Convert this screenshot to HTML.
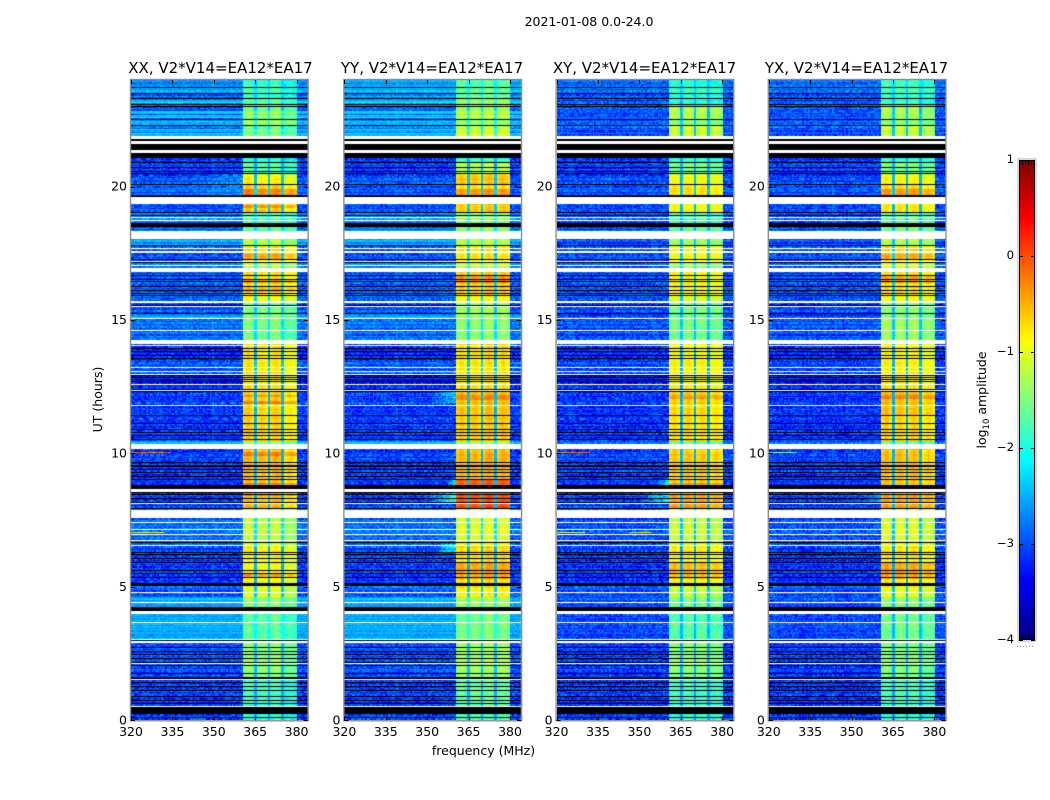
<!DOCTYPE html>
<html lang="en">
<head>
<meta charset="utf-8">
<title>2021-01-08 0.0-24.0</title>
<style>
html,body{margin:0;padding:0;background:#fff;width:1050px;height:800px;overflow:hidden}
#figure{position:relative;width:1050px;height:800px;font-family:"DejaVu Sans","Liberation Sans",sans-serif}
canvas{position:absolute;display:block}
svg{position:absolute;left:0;top:0}
text{font-family:"DejaVu Sans","Liberation Sans",sans-serif;fill:#000}
</style>
</head>
<body>
<div id="figure">
<canvas id="panel0" width="178" height="640" style="left:131px;top:80px"></canvas>
<canvas id="panel1" width="178" height="640" style="left:345px;top:80px"></canvas>
<canvas id="panel2" width="178" height="640" style="left:557px;top:80px"></canvas>
<canvas id="panel3" width="178" height="640" style="left:769px;top:80px"></canvas>
<canvas id="cbar" width="16" height="480" style="left:1019px;top:160px"></canvas>
<svg id="overlay" width="1050" height="800" viewBox="0 0 1050 800">
<text x="589" y="26" text-anchor="middle" font-size="12.5">2021-01-08 0.0-24.0</text>
<text x="483.5" y="755" text-anchor="middle" font-size="12.5">frequency (MHz)</text>
<text transform="translate(102 399.5) rotate(-90)" text-anchor="middle" font-size="12.5">UT (hours)</text>
<text transform="translate(986 400) rotate(-90)" text-anchor="middle" font-size="12.5">log<tspan dy="3" font-size="8.5">10</tspan><tspan dy="-3"> amplitude</tspan></text>
</svg>
</div>
<script>
// ---------- chart data ----------
const panelTitles = ['XX, V2*V14=EA12*EA17','YY, V2*V14=EA12*EA17','XY, V2*V14=EA12*EA17','YX, V2*V14=EA12*EA17'];
const freqTicks = [320,335,350,365,380];
const utTicks = [0,5,10,15,20];
const cbarTicks = [-4,-3,-2,-1,0,1];

// start hour of each observing segment
const segStart = [0,0.5,1.5,3,4.05,4.6,5.1,6.55,7.9,8.65,10.34,10.45,11.4,12.3,12.95,13.5,14.25,15.05,15.25,15.7,15.9,16.9,17.2,17.8,18.3,18.6,19,19.65,20.1,20.5,20.9,21.8,22.3,22.5,23,23.3,23.5,23.7];
// log10 amplitude outside the receiver band, per segment
const xxBg = [-3.1,-3.1,-3,-2.55,-2.55,-2.95,-3.1,-2.85,-3.1,-3.1,-2.5,-3.1,-3.1,-3.2,-3,-3.2,-2.85,-2.55,-3,-2.9,-2.95,-2.7,-3,-2.55,-2.9,-2.8,-3,-2.9,-3,-3.1,-3.1,-2.9,-2.5,-3,-2.9,-2.9,-2.55,-2.7];
const yyBg = [-3.1,-3.1,-3,-2.55,-2.55,-2.95,-3.1,-2.85,-3.1,-3.1,-2.5,-3.1,-3.1,-3.2,-3,-3.2,-2.85,-2.55,-3,-2.9,-2.95,-2.65,-3,-2.55,-2.8,-2.75,-3,-3,-3,-3.1,-3.1,-2.8,-2.5,-2.9,-2.8,-2.65,-2.5,-2.55];
const xyBg = [-3.15,-3.15,-3.1,-3.05,-3,-3,-3.15,-3,-3.1,-3.1,-2.9,-3.15,-3.15,-3.2,-3.1,-3.2,-3,-3,-3.05,-3,-3,-2.9,-3,-3,-3,-3.05,-3.05,-3,-3.05,-3.1,-3.1,-3,-2.9,-3,-3,-3,-2.85,-2.85];
const yxBg = [-3.15,-3.15,-3.1,-3.05,-3,-3,-3.15,-3,-3.1,-3.1,-2.9,-3.15,-3.15,-3.2,-3.1,-3.2,-3,-3,-3.05,-3,-3,-2.9,-3,-3,-3,-3.05,-3.05,-3,-3.05,-3.1,-3.1,-3,-2.9,-3,-3,-3,-2.85,-2.85];
// log10 amplitude inside the receiver band, per segment
const xxBand = [-2,-1.9,-1.5,-1.75,-1.5,-1.1,-0.95,-1.25,-0.65,-0.65,-1.5,-0.75,-0.75,-0.85,-0.85,-0.85,-1.6,-1.5,-1.6,-1,-0.8,-1.3,-0.85,-1.3,-1.7,-1.8,-0.75,-0.7,-0.95,-1.8,-2,-1.75,-1.4,-1.65,-1.95,-1.95,-1.85,-1.95];
const yyBand = [-1.9,-1.7,-1.4,-1.6,-1.4,-0.9,-0.8,-1.1,-0.1,-0.6,-1.4,-0.7,-0.65,-0.85,-0.85,-0.8,-1.5,-1.4,-1.4,-0.95,-0.7,-1.2,-0.85,-1.3,-1.5,-1.5,-0.7,-0.8,-0.7,-1.3,-1.9,-1.3,-1.45,-1.45,-1.7,-1.7,-1.7,-1.75];
const xyBand = [-2,-1.9,-1.5,-1.75,-1.6,-1.2,-0.9,-1.2,-0.5,-0.7,-1.7,-0.8,-0.75,-0.9,-0.9,-0.95,-1.6,-1.6,-1.6,-1.1,-0.9,-1.4,-0.95,-1.4,-1.7,-1.8,-0.95,-0.8,-1,-1.6,-1.9,-1.15,-1.5,-1.3,-2,-2,-1.9,-2];
const yxBand = [-2,-1.85,-1.55,-1.6,-1.5,-1,-0.85,-1.1,-0.5,-0.65,-1.7,-0.75,-0.65,-0.85,-0.9,-0.9,-1.4,-1.5,-1.5,-0.95,-0.8,-1.1,-0.8,-1.3,-1.6,-1.7,-0.85,-0.75,-0.95,-1.6,-1.9,-1.2,-1.5,-1.35,-1.9,-1.9,-1.8,-1.9];
// sub-band level trims, per polarisation
const subBandTrim = [[0.05,0,0.05,-0.15],[0,0,0.05,0.02],[0,0.02,0,-0.08],[0.02,0,0.02,-0.12]];
// receiver sub-bands, MHz
const subBandLow = [360.5,365.5,370.5,375.5];
const subBandHigh = [364.5,369.5,374.5,380];
// flagged times, hours
const blackLines = [0.09,0.62,0.74,0.89,1.1,1.27,1.42,1.54,1.61,1.74,2.04,2.16,2.3,2.45,2.58,2.7,2.98,5.35,5.51,5.61,5.9,6.07,6.2,6.28,6.64,7.92,8.17,8.3,8.44,8.53,9.03,9.13,9.27,9.38,9.67,10.5,10.65,10.78,10.9,11.1,12.3,12.4,12.69,12.75,12.83,12.9,13.54,13.68,13.81,13.92,15.26,15.56,15.91,16.01,16.1,16.24,16.43,16.5,16.65,17.17,17.28,17.81,18.93,19.04,20.09,20.5,20.57,20.73,20.9,22.3,22.53,23.01,23.09,23.31,23.5,23.72];
const whiteLines = [0.49,1.5,2.12,3.03,3.67,4.39,4.79,6.53,6.72,6.95,7.16,7.42,8.13,11.79,12.34,12.59,12.94,13.06,13.23,14.04,14.13,14.6,15.04,15.5,15.65,15.71,17.03,17.21,17.52,17.58,17.68,18.06,18.72,18.86];
const blackStart = [0.25,4.11,5.05,8.67,9.52,11.4,18.52,19.61,21.11,21.35,21.7];
const blackEnd = [0.47,4.2,5.13,8.78,9.56,11.43,18.6,19.68,21.29,21.63,21.8];
const whiteStart = [2.9,4.01,7.61,8.55,10.17,14.15,16.83,18.08,19.36,21.29,21.63,21.8];
const whiteEnd = [2.95,4.07,7.86,8.65,10.34,14.25,16.94,18.3,19.6,21.35,21.7,21.89];
// bright bursts in the band: start hour, end hour, polarisation, level change
const burstStart = [19.65,19.2,17.3,16.4,16.05,12.1,11.85,9.9,8.8,8.4,5.35,5.3,8.8,19.65,12,12.05,5.3,5.3,17.3,16.4,19.7,12.05,8.7,16.4];
const burstEnd = [19.9,19.3,17.6,16.55,16.2,12.2,11.95,10.05,8.9,8.5,5.5,5.9,9,19.9,12.2,12.2,5.9,5.9,17.6,16.7,19.9,12.2,8.9,16.7];
const burstPanel = [0,0,0,0,0,0,0,0,0,0,0,1,1,1,1,2,2,3,3,3,3,3,2,1];
const burstDelta = [0.35,0.35,0.3,0.25,0.25,0.35,0.4,0.3,0.35,0.25,0.45,0.3,0.45,0.35,0.3,0.3,0.3,0.35,0.25,0.3,0.3,0.35,0.3,0.3];
// narrow interference rows: hour, polarisation, MHz range, level
const rfiHour = [10.04,10.04,7.03,7.03,7.03,10.04];
const rfiPanel = [0,2,0,2,2,3];
const rfiFrom = [320,320,320,320,346,320];
const rfiTo = [334,332,332,330,354,330];
const rfiLevel = [-0.2,-0.3,-1,-1.2,-1.2,-1.6];
// leakage just below the band: hours, polarisation, start MHz, level at band edge
const leakStart = [8.1,8.7,8.1,8.7,19.65,11.9,6.3,8.1,13.9];
const leakEnd = [8.6,9,8.6,9,20.5,12.3,6.6,8.6,14];
const leakPanel = [1,1,2,2,0,1,1,3,1];
const leakFrom = [350,357,350,355,340,352,353,352,353];
const leakLevel = [-2,-2,-2.2,-2.2,-2.7,-2.4,-2.2,-2.6,-2.4];
// brighter rows in the co-polar panels near the top of the day, hours
const brightRowHours = [21.96,22.11,22.63,22.78,23.2];
// fixed pixel texture, log10 units
const speckle = [0.21,-0.34,0.08,-0.12,0.37,-0.05,-0.28,0.16,0.42,-0.41,0.03,0.29,-0.18,-0.07,0.33,-0.25,0.12,-0.38,0.19,0.01,-0.15,0.45,-0.31,0.06,-0.22,0.27,-0.02,0.35,-0.44,0.14,-0.09,0.24,-0.36,0.1,0.39,-0.19,-0.27,0.17,0.04,-0.33,0.31,-0.11,0.22,-0.42,0.07,0.41,-0.24,-0.03,0.18,-0.16,0.3,-0.37,0.13,-0.08,0.26,-0.29,0.44,-0.13,0.02,-0.21,0.34];
const rowStreak = [0.08,-0.1,0.15,0.02,-0.14,0.1,-0.05,0.18,-0.12,0.04,-0.02,0.12,-0.16,0.06,0.14,-0.08,0.01,-0.13,0.11,0.05,-0.06,0.16,-0.11];

// ---------- geometry ----------
const panelLeft = [131,344.4,556.6,768.8];
const titleCenter = [220.5,432,644.5,856.5];
const plotTop = 80, plotBottom = 720.3, pxPerMHz = 2.76, pxPerHour = 26.68;
const freqMin = 320, freqMax = 384, nChannels = 128, nRows = 640, rowsPerHour = nRows / 24;
const bgSeries = [xxBg,yyBg,xyBg,yxBg];
const bandSeries = [xxBand,yyBand,xyBand,yxBand];
const xScale = (p, mhz) => panelLeft[p] + (mhz - freqMin) * pxPerMHz;
const yScale = h => plotBottom - h * pxPerHour;
const cbarLeft = 1019, cbarWidth = 16, cbarTop = 160, cbarHeight = 480;
const cbarY = v => cbarTop + (1 - v) / 5 * cbarHeight;

function clamp01(x){return Math.max(0,Math.min(1,x));}
function jet(v){
  const t = clamp01((v + 4) / 5);
  return [clamp01(1.5 - Math.abs(4*t - 3))*255, clamp01(1.5 - Math.abs(4*t - 2))*255, clamp01(1.5 - Math.abs(4*t - 1))*255];
}
function segmentIndex(h){
  let s = 0;
  for (let i = 0; i < segStart.length; i++) if (segStart[i] <= h) s = i;
  return s;
}
function buildFlags(){
  const flags = new Int8Array(nRows);
  blackLines.forEach(h => { flags[Math.floor(h*rowsPerHour)] = 1; });
  blackStart.forEach((s,i) => { for (let r = Math.floor(s*rowsPerHour); r < Math.ceil(blackEnd[i]*rowsPerHour); r++) flags[r] = 1; });
  whiteLines.forEach(h => { flags[Math.floor(h*rowsPerHour)] = 2; });
  whiteStart.forEach((s,i) => { for (let r = Math.floor(s*rowsPerHour); r < Math.ceil(whiteEnd[i]*rowsPerHour); r++) flags[r] = 2; });
  return flags;
}
function cellValue(p, r, c){
  const h = (r + 0.5) / rowsPerHour, mhz = freqMin + (c + 0.5) * 0.5;
  const s = segmentIndex(h);
  let bg = bgSeries[p][s];
  let hi = bandSeries[p][s];
  for (let i = 0; i < burstStart.length; i++) {
    if (burstPanel[i] === p && h >= burstStart[i] && h < burstEnd[i]) hi += burstDelta[i];
  }
  if (p < 2) {
    for (let i = 0; i < brightRowHours.length; i++) {
      if (Math.abs(h - brightRowHours[i]) < 0.05) { bg = -2.4; hi += 0.25; }
    }
  }
  const rt = Math.floor(r * 0.75);
  const tex = speckle[(c*c*3 + rt*rt*5 + c*rt + c*17 + rt*29 + p*7) % speckle.length];
  const streak = rowStreak[rt % rowStreak.length];
  let sub = -1;
  for (let i = 0; i < subBandLow.length; i++) if (mhz >= subBandLow[i] && mhz < subBandHigh[i]) sub = i;
  if (sub >= 0) {
    const amp = hi < -1.5 ? 0.55 : 0.18;
    const u = (mhz - subBandLow[sub]) / (subBandHigh[sub] - subBandLow[sub]);
    const crown = 0.22 * (1 - Math.abs(2*u - 1)) - 0.07;
    return hi + subBandTrim[p][sub] + crown + tex * amp + streak * 0.5;
  }
  if (mhz >= subBandLow[0] && mhz < subBandHigh[3]) {
    return Math.min(hi - 0.35, bg + 0.6) + tex * 0.25;
  }
  let v = bg + tex * (0.25 + Math.max(0, -2.4 - bg) * 0.8) + streak;
  if (mhz < subBandLow[0]) {
    for (let i = 0; i < leakStart.length; i++) {
      if (leakPanel[i] === p && h >= leakStart[i] && h < leakEnd[i] && mhz >= leakFrom[i]) {
        const f = (mhz - leakFrom[i]) / (subBandLow[0] - leakFrom[i]);
        v += (leakLevel[i] - bg) * f;
      }
    }
  }
  for (let i = 0; i < rfiHour.length; i++) {
    if (rfiPanel[i] === p && Math.floor(rfiHour[i]*rowsPerHour) === r && mhz >= rfiFrom[i] && mhz < rfiTo[i]) {
      v = rfiLevel[i] + tex;
    }
  }
  return v;
}
function drawPanel(p, flags){
  const off = document.createElement('canvas');
  off.width = nChannels; off.height = nRows;
  const octx = off.getContext('2d');
  const img = octx.createImageData(nChannels, nRows);
  for (let r = 0; r < nRows; r++) {
    const yRow = nRows - 1 - r;
    for (let c = 0; c < nChannels; c++) {
      const k = (yRow * nChannels + c) * 4;
      let rgb;
      if (flags[r] === 2) rgb = [255,255,255];
      else if (flags[r] === 1) rgb = [0,0,0];
      else rgb = jet(cellValue(p, r, c));
      img.data[k] = rgb[0]; img.data[k+1] = rgb[1]; img.data[k+2] = rgb[2]; img.data[k+3] = 255;
    }
  }
  octx.putImageData(img, 0, 0);
  const cv = document.getElementById('panel' + p);
  cv.style.left = Math.round(panelLeft[p]) + 'px';
  const ctx = cv.getContext('2d');
  ctx.imageSmoothingEnabled = false;
  ctx.drawImage(off, 0, 0, (freqMax - freqMin) * pxPerMHz, cv.height);
}
function drawColorbar(){
  const cv = document.getElementById('cbar');
  const ctx = cv.getContext('2d');
  for (let y = 0; y < cbarHeight; y++) {
    const rgb = jet(1 - (y + 0.5) / cbarHeight * 5);
    ctx.fillStyle = 'rgb(' + rgb.map(Math.round).join(',') + ')';
    ctx.fillRect(0, y, cbarWidth, 1);
  }
}
const NS = 'http://www.w3.org/2000/svg';
const overlay = document.getElementById('overlay');
function makeLine(x1, y1, x2, y2, stroke){
  const el = document.createElementNS(NS, 'line');
  el.setAttribute('x1', x1); el.setAttribute('y1', y1);
  el.setAttribute('x2', x2); el.setAttribute('y2', y2);
  el.setAttribute('stroke', stroke); el.setAttribute('stroke-width', 1);
  return el;
}
function makeText(x, y, str, anchor, size){
  const el = document.createElementNS(NS, 'text');
  el.setAttribute('x', x); el.setAttribute('y', y);
  el.setAttribute('text-anchor', anchor); el.setAttribute('font-size', size);
  el.textContent = str;
  return el;
}
function drawAxes(p){
  const left = xScale(p, freqMin), right = xScale(p, freqMax);
  const snap = v => Math.round(v) + 0.5;
  const frame = document.createElementNS(NS, 'rect');
  frame.setAttribute('x', left - 0.5);
  frame.setAttribute('y', plotTop - 0.5);
  frame.setAttribute('width', right - left + 1);
  frame.setAttribute('height', plotBottom - plotTop + 1);
  frame.setAttribute('fill', 'none');
  frame.setAttribute('stroke', '#8c8c8c');
  frame.setAttribute('stroke-width', 1.4);
  
  
  overlay.appendChild(frame);
  const title = makeText(titleCenter[p], 73, panelTitles[p], 'middle', 15);
  
  
  overlay.appendChild(title);
  freqTicks.forEach(f => {
    const x = snap(xScale(p, f));
    const topTick = makeLine(x, plotTop, x, plotTop + 4, '#000');
    
    
    overlay.appendChild(topTick);
    const botTick = makeLine(x, plotBottom - 4, x, plotBottom, '#000');
    
    
    overlay.appendChild(botTick);
    const label = makeText(xScale(p, f), 736, String(f), 'middle', 12.5);
    
    
    overlay.appendChild(label);
  });
  utTicks.forEach(u => {
    const y = snap(yScale(u));
    const leftTick = makeLine(left, y, left + 4, y, '#000');
    
    
    overlay.appendChild(leftTick);
    const rightTick = makeLine(right - 4, y, right, y, '#000');
    
    
    overlay.appendChild(rightTick);
    const label = makeText(left - 4, yScale(u) + 4, String(u), 'end', 12.5);
    
    
    overlay.appendChild(label);
  });
}
function drawColorbarAxes(){
  const outer = document.createElementNS(NS, 'rect');
  outer.setAttribute('x', cbarLeft - 1);
  outer.setAttribute('y', cbarTop - 1);
  outer.setAttribute('width', cbarWidth + 2);
  outer.setAttribute('height', cbarHeight + 2);
  outer.setAttribute('fill', 'none');
  outer.setAttribute('stroke', '#b0b0b0');
  outer.setAttribute('stroke-width', 1);
  
  
  overlay.appendChild(outer);
  const inner = document.createElementNS(NS, 'rect');
  inner.setAttribute('x', cbarLeft + 0.5);
  inner.setAttribute('y', cbarTop + 0.5);
  inner.setAttribute('width', cbarWidth - 1);
  inner.setAttribute('height', cbarHeight - 1);
  inner.setAttribute('fill', 'none');
  inner.setAttribute('stroke', '#000');
  inner.setAttribute('stroke-width', 1);
  
  
  overlay.appendChild(inner);
  cbarTicks.forEach(v => {
    const y = Math.round(cbarY(v)) + 0.5;
    const t1 = makeLine(cbarLeft, y, cbarLeft + 4, y, '#000');
    
    
    overlay.appendChild(t1);
    const t2 = makeLine(cbarLeft + cbarWidth - 4, y, cbarLeft + cbarWidth, y, '#000');
    
    
    overlay.appendChild(t2);
    const label = makeText(cbarLeft - 5, cbarY(v) + 3, String(v).replace('-', '\u2212'), 'end', 11.67);
    
    
    overlay.appendChild(label);
  });
  [3.5,6.5,9.5,12.5].forEach(dx => {
    const up = makeLine(cbarLeft + dx, cbarTop, cbarLeft + dx, cbarTop + 5, '#000');
    
    
    overlay.appendChild(up);
    const dn = makeLine(cbarLeft + dx, cbarTop + cbarHeight - 5, cbarLeft + dx, cbarTop + cbarHeight, '#000');
    
    
    overlay.appendChild(dn);
  });
  const dots = makeLine(cbarLeft - 2, 646.5, cbarLeft + cbarWidth, 646.5, '#999');
  dots.setAttribute('stroke-dasharray', '1 2');
  
  
  overlay.appendChild(dots);
}
const rowFlags = buildFlags();
for (let p = 0; p < 4; p++) {
  drawPanel(p, rowFlags);
  drawAxes(p);
}
drawColorbar();
drawColorbarAxes();
</script>
</body>
</html>
